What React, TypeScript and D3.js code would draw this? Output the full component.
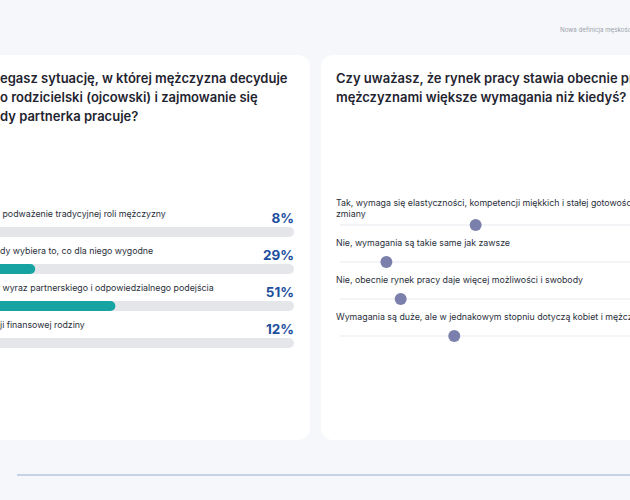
import * as d3 from "d3";

// left card: single-choice answers with percentage bars
const LEFT_TITLE = [
  "egasz sytuację, w której mężczyzna decyduje",
  "o rodzicielski (ojcowski) i zajmowanie się",
  "dy partnerka pracuje?",
];
const LEFT_LABELS = [
  " podważenie tradycyjnej roli mężczyzny",
  "dy wybiera to, co dla niego wygodne",
  " wyraz partnerskiego i odpowiedzialnego podejścia",
  "ji finansowej rodziny",
];
const LEFT_VALUES = [8, 29, 51, 12];

// right card: dot positions on a 0–100 track
const RIGHT_TITLE = [
  "Czy uważasz, że rynek pracy stawia obecnie przed",
  "mężczyznami większe wymagania niż kiedyś?",
];
const RIGHT_LABELS = [
  ["Tak, wymaga się elastyczności, kompetencji miękkich i stałej gotowości do", "zmiany"],
  ["Nie, wymagania są takie same jak zawsze"],
  ["Nie, obecnie rynek pracy daje więcej możliwości i swobody"],
  ["Wymagania są duże, ale w jednakowym stopniu dotyczą kobiet i mężczyzn"],
];
const RIGHT_VALUES = [38, 13, 17, 32];

const W = 630;
const H = 500;
const FONT = "Inter, 'Noto Sans', sans-serif";

export default function App() {
  const xLeft = d3.scaleLinear().domain([0, 100]).range([-70.5, 294]);
  const xRight = d3.scaleLinear().domain([0, 100]).range([340, 697]);
  const rowY = d3.scaleLinear().domain([0, 1]).range([0, 37]);

  return (
    <svg
      width={W}
      height={H}
      style={{ position: "fixed", left: 0, top: 0 }}
      fontFamily={FONT}
    >
      <rect width={W} height={H} fill="#f6f7fb" />
      <text x={560} y={32} fontSize={6.2} fill="#9a9ea8">
        Nowa definicja męskości
      </text>

      {/* cards */}
      <rect x={-100} y={55} width={410} height={385} rx={12} fill="#ffffff" />
      <rect x={321} y={55} width={420} height={385} rx={12} fill="#ffffff" />

      {/* left card */}
      {LEFT_TITLE.map((t, i) => (
        <text key={t} x={0} y={83 + i * 19} fontSize={13} fontWeight={600} fill="#1f2430">
          {t}
        </text>
      ))}
      {LEFT_VALUES.map((v, i) => {
        const y = rowY(i);
        const x0 = xLeft(0);
        return (
          <g key={i}>
            <text x={0} y={217 + y} fontSize={8.8} fill="#2a2f3a" style={{ whiteSpace: "pre" }}>
              {LEFT_LABELS[i]}
            </text>
            <text
              x={294}
              y={223 + y}
              fontSize={13.5}
              fontWeight={700}
              textAnchor="end"
              fill="#1d4f9d"
            >
              {v}%
            </text>
            <rect
              x={x0}
              y={227 + y}
              width={xLeft(100) - x0}
              height={10}
              rx={5}
              fill="#e4e6ea"
            />
            <rect
              x={x0}
              y={227 + y}
              width={xLeft(v) - x0}
              height={10}
              rx={5}
              fill="#17a3a1"
            />
          </g>
        );
      })}

      {/* right card */}
      {RIGHT_TITLE.map((t, i) => (
        <text key={t} x={336} y={83 + i * 19} fontSize={13} fontWeight={600} fill="#1f2430">
          {t}
        </text>
      ))}
      {RIGHT_VALUES.map((v, i) => {
        const y = rowY(i);
        const lines = RIGHT_LABELS[i];
        const trackY = 225 + y;
        const labelY = i === 0 ? 206 : 209 + y;
        return (
          <g key={i}>
            {lines.map((l, j) => (
              <text key={l} x={336} y={labelY + j * 11} fontSize={8.8} fill="#2a2f3a">
                {l}
              </text>
            ))}
            <line
              x1={xRight(0)}
              x2={xRight(100)}
              y1={trackY}
              y2={trackY}
              stroke="#e7e9ee"
              strokeWidth={1}
            />
            <circle cx={xRight(v)} cy={trackY} r={6} fill="#7a7fab" />
          </g>
        );
      })}

      {/* footer rule */}
      <line x1={17} x2={W} y1={475} y2={475} stroke="#b4c6e2" strokeWidth={1.5} />
    </svg>
  );
}
